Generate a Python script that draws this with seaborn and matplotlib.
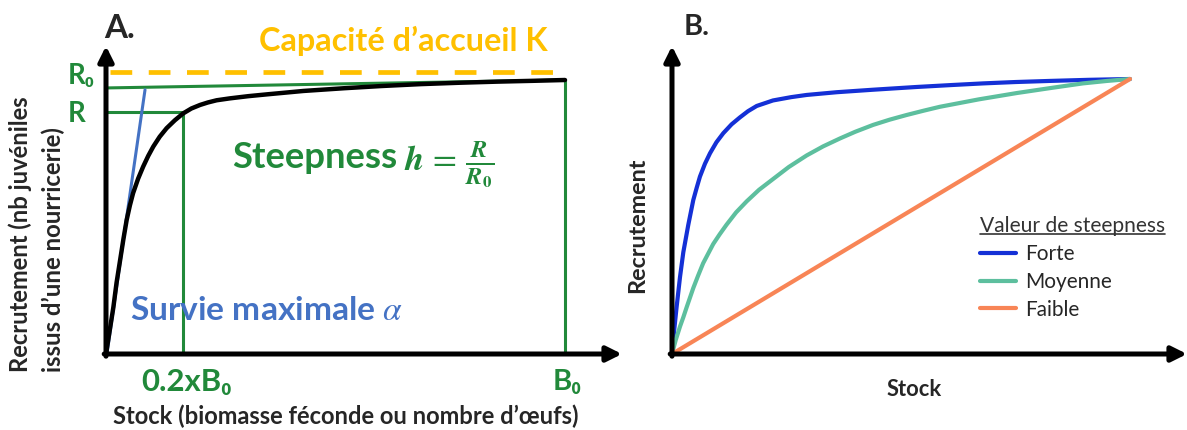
import matplotlib
matplotlib.use('Agg')
import matplotlib.pyplot as plt
import seaborn as sns
import pandas as pd
from matplotlib.lines import Line2D

# ---- data (stock as share of B0, recruitment as share of R0)
# panel A : stock-recruitment curve
stock_a = [0, 0.008, 0.016, 0.023, 0.0305, 0.038, 0.045, 0.052, 0.059, 0.070, 0.081,
           0.092, 0.103, 0.117, 0.132, 0.150, 0.168, 0.186, 0.205, 0.222, 0.241, 0.270,
           0.31, 0.353, 0.43, 0.519, 0.60, 0.686, 0.77, 0.852, 0.93, 1.0]
recr_a = [0, 0.085, 0.17, 0.26, 0.34, 0.42, 0.489, 0.542, 0.587, 0.640, 0.684,
          0.723, 0.757, 0.793, 0.824, 0.853, 0.878, 0.896, 0.909, 0.918, 0.926, 0.933,
          0.941, 0.948, 0.960, 0.970, 0.978, 0.985, 0.990, 0.994, 0.997, 1.0]
alpha_x = [0.002, 0.085]          # maximal survival (slope at origin)
alpha_y = [0.0, 0.964]
r0_line_x = [0.0, 1.0]
r0_line_y = [0.971, 1.0]
h_stock = 0.168                   # 0.2 x B0
h_recr = 0.883                    # R
k_level = 1.029                   # carrying capacity K
k_x = [0.009, 0.978]

# panel B : three steepness values
stock_forte = [0, 0.005, 0.010, 0.0175, 0.0247, 0.0356, 0.0465, 0.054, 0.061, 0.072,
               0.083, 0.097, 0.112, 0.130, 0.148, 0.166, 0.185, 0.2205, 0.26, 0.294,
               0.36, 0.439, 0.534, 0.61, 0.679, 0.75, 0.825, 0.91, 1.0]
recr_forte = [0, 0.09, 0.17, 0.28, 0.37, 0.47, 0.56, 0.605, 0.645, 0.692,
              0.730, 0.770, 0.803, 0.835, 0.860, 0.883, 0.902, 0.922, 0.934, 0.942,
              0.952, 0.961, 0.971, 0.978, 0.984, 0.989, 0.993, 0.997, 1.0]
stock_moy = [0, 0.008, 0.0175, 0.025, 0.032, 0.0465, 0.057, 0.068, 0.079, 0.090, 0.104,
             0.119, 0.140, 0.163, 0.19, 0.2205, 0.255, 0.294, 0.33, 0.367, 0.40, 0.439,
             0.475, 0.512, 0.55, 0.585, 0.67, 0.753, 0.83, 0.897, 0.95, 1.0]
recr_moy = [0, 0.05, 0.10, 0.135, 0.17, 0.24, 0.285, 0.33, 0.365, 0.40, 0.435,
            0.47, 0.515, 0.555, 0.597, 0.636, 0.68, 0.722, 0.755, 0.784, 0.808, 0.833,
            0.852, 0.869, 0.885, 0.899, 0.926, 0.949, 0.968, 0.984, 0.993, 1.0]
stock_faible = [0, 0.5, 1.0]
recr_faible = [0, 0.5, 1.0]
levels = ['Forte', 'Moyenne', 'Faible']

W, H = 1187, 430
GREEN = '#21893A'
BLUE_A = '#4472C4'
ORANGE_K = '#FFC000'
palette = {'Forte': '#1430D6', 'Moyenne': '#5DBF9E', 'Faible': '#F88556'}

sns.set_style('white')
plt.rcParams['font.family'] = ['Lato', 'DejaVu Sans']


def fx(px):
    return px / W


def fy(py):
    return 1 - py / H


fig = plt.figure(figsize=(W / 100, H / 100), dpi=100)
renderer = fig.canvas.get_renderer()


def length_px(t):
    bb = t.get_window_extent(renderer)
    return bb.height if t.get_rotation() == 90 else bb.width


def label(px, py, s, target, **kw):
    # place a text and scale its size so it spans the width seen in the reference
    t = fig.text(fx(px), fy(py), s, fontsize=20, **kw)
    t.set_fontsize(20 * target / length_px(t))
    return t


def size_for(s, target, **kw):
    t = fig.text(0, 0, s, fontsize=20, **kw)
    size = 20 * target / length_px(t)
    t.remove()
    return size


ax_a = fig.add_axes([fx(106), fy(354), (622 - 106) / W, (354 - 46) / H])
ax_b = fig.add_axes([fx(672), fy(354), (1187 - 672) / W, (354 - 46) / H])

xa_max = (622 - 106) / 459
ya_max = (354 - 46) / 274
xb_max = (1187 - 672) / 458
yb_max = (354 - 46) / 275

for ax, xm, ym in [(ax_a, xa_max, ya_max), (ax_b, xb_max, yb_max)]:
    ax.set_xlim(0, xm)
    ax.set_ylim(0, ym)
    ax.axis('off')
    arrow = dict(arrowstyle='-|>,head_width=0.45,head_length=0.9', lw=3.6,
                 color='black', shrinkA=0, shrinkB=0)
    ax.annotate('', xy=(xm, 0), xytext=(-0.004, 0), arrowprops=arrow,
                annotation_clip=False)
    ax.annotate('', xy=(0, ym), xytext=(0, -0.008), arrowprops=arrow,
                annotation_clip=False)

# ---- panel A
ax_a.plot(k_x, [k_level, k_level], color=ORANGE_K, lw=3.4,
          ls=(0, (4.6, 3.5)), solid_capstyle='butt', clip_on=False)
ax_a.plot(r0_line_x, r0_line_y, color=GREEN, lw=2.2, clip_on=False)
ax_a.plot([0, h_stock], [h_recr, h_recr], color=GREEN, lw=2.2, clip_on=False)
ax_a.plot([h_stock, h_stock], [0, h_recr], color=GREEN, lw=2.2, clip_on=False)
ax_a.plot([1.0, 1.0], [0, 1.0], color=GREEN, lw=2.2, clip_on=False)
sns.lineplot(x=alpha_x, y=alpha_y, ax=ax_a, color=BLUE_A, lw=2.2)
sns.lineplot(x=stock_a, y=recr_a, ax=ax_a, color='black', lw=3.2, sort=False)

bold = dict(fontweight='bold')
label(120, 28, 'A.', 31, ha='center', va='center', **bold)
label(403, 41, 'Capacité d\u2019accueil K', 289, color=ORANGE_K, ha='center', va='center', **bold)
r0 = label(81, 76, 'R\u2080', 27, color=GREEN, ha='center', va='center', **bold)
fig.text(fx(77), fy(114), 'R', fontsize=r0.get_fontsize(), color=GREEN, ha='center',
         va='center', **bold)
label(232, 157, 'Steepness', 166, color=GREEN, ha='left', va='center', **bold)
fig.text(fx(404), fy(164), r'$\mathbfit{h}\,=\,\frac{\mathbfit{R}}{\mathbfit{R}_\mathbf{0}}$',
         fontsize=25, color=GREEN, ha='left', va='center', math_fontfamily='stix')
label(130, 311, r'Survie maximale $\mathit{\alpha}$', 273, color=BLUE_A, ha='left',
      va='center', math_fontfamily='stix', **bold)
label(187, 382, '0.2xB\u2080', 91, color=GREEN, ha='center', va='center', **bold)
label(567, 382, 'B\u2080', 29, color=GREEN, ha='center', va='center', **bold)
label(346, 416, 'Stock (biomasse féconde ou nombre d\u2019œufs)', 468, ha='center',
      va='center', **bold)
label(20, 372, 'Recrutement (nb juvéniles', 277, rotation=90, ha='center', va='bottom', **bold)
label(53, 372, 'issus d\u2019une nourricerie)', 245, rotation=90, ha='center', va='bottom', **bold)

# ---- panel B
df_b = pd.concat([
    pd.DataFrame({'stock': stock_forte, 'recr': recr_forte, 'steepness': levels[0]}),
    pd.DataFrame({'stock': stock_moy, 'recr': recr_moy, 'steepness': levels[1]}),
    pd.DataFrame({'stock': stock_faible, 'recr': recr_faible, 'steepness': levels[2]}),
])
sns.lineplot(data=df_b, x='stock', y='recr', hue='steepness', hue_order=levels,
             palette=palette, lw=3, sort=False, ax=ax_b, legend=False)

entry_size = size_for('Moyenne', 87)
title_size = size_for('Valeur de steepness', 186)
handles = [Line2D([], [], color=palette[k], lw=3) for k in levels]
leg = ax_b.legend(handles, levels, title='Valeur de steepness', loc='upper left',
                  bbox_to_anchor=(fx(980), fy(216)), bbox_transform=fig.transFigure,
                  frameon=False, fontsize=entry_size, title_fontsize=title_size,
                  handlelength=36 / (entry_size * 100 / 72), handletextpad=0.45,
                  labelspacing=0.38, borderpad=0, borderaxespad=0, alignment='left')
for t in leg.get_texts():
    t.set_color('#262626')
leg.get_title().set_color('#333333')

label(697, 27, 'B.', 26, ha='center', va='center', **bold)
label(638, 225, 'Recrutement', 136, rotation=90, ha='center', va='center', **bold)
label(914, 389, 'Stock', 55, ha='center', va='center', **bold)

# underline the legend title
fig.canvas.draw()
bb = leg.get_title().get_window_extent().transformed(fig.transFigure.inverted())
fig.add_artist(Line2D([bb.x0, bb.x1], [bb.y0 + 0.004, bb.y0 + 0.004],
                      color='#333333', lw=1.2, transform=fig.transFigure))

fig.savefig('out.png', dpi=100)
